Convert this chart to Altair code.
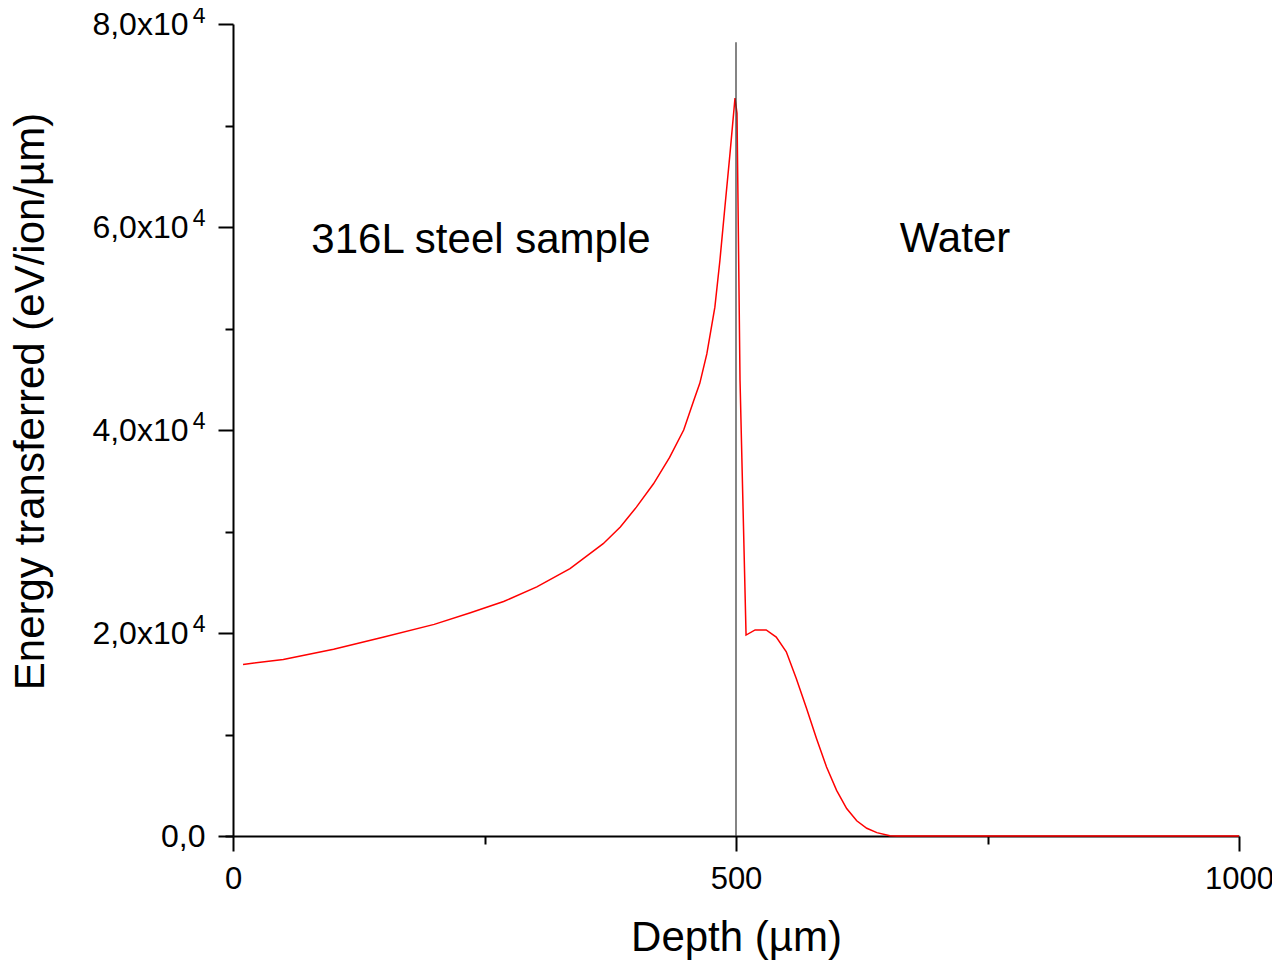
import altair as alt
import pandas as pd

# Curve data
depth = [10, 50, 100, 150, 200, 236, 269, 302, 335, 368, 385, 401, 418, 434, 448,
         458, 464, 471, 479, 484, 489, 494, 499, 501, 504, 510, 519, 530, 540, 550,
         560, 570, 580, 590, 600, 610, 620, 630, 640, 653, 660, 700, 800, 900, 1000]
energy = [16900, 17400, 18400, 19600, 20850, 22000, 23100, 24550, 26350, 28800, 30450,
          32400, 34700, 37300, 40000, 42900, 44600, 47500, 52100, 56700, 62000, 67200,
          72700, 71200, 44900, 19800, 20300, 20300, 19600, 18150, 15500, 12600, 9600,
          6800, 4500, 2700, 1500, 760, 330, 30, 0, 0, 0, 0, 0]

# Interface line
interface_x = [500]
interface_top = [78200]
interface_bottom = [0]

# Annotations
label_text = ["316L steel sample", "Water"]
label_x = [246.5, 717.7]
label_y = [57440, 57540]

x_major = [0, 500, 1000]
x_minor = [250, 750]
y_major = [0, 20000, 40000, 60000, 80000]
y_minor = [10000, 30000, 50000, 70000]

df = pd.DataFrame({"depth": depth, "energy": energy})
df_rule = pd.DataFrame({"depth": interface_x, "top": interface_top, "bottom": interface_bottom})
df_text = pd.DataFrame({"t": label_text, "depth": label_x, "energy": label_y})

FONT = "Liberation Sans"
xscale = alt.Scale(domain=[0, 1000], nice=False, zero=False)
yscale = alt.Scale(domain=[0, 80000], nice=False)

common_axis = dict(
    domainColor="black", domainWidth=2, tickColor="black", tickWidth=2,
    labelFont=FONT, labelColor="black", grid=False, labelFlush=False,
    titleFont=FONT, titleFontWeight="normal", titleColor="black",
)

line = alt.Chart(df).mark_line(color="#ff0000", strokeWidth=1.5).encode(
    x=alt.X("depth:Q", scale=xscale, axis=alt.Axis(
        values=x_major, orient="bottom", tickSize=15, labelFontSize=31,
        labelPadding=13, labelExpr="format(datum.value, 'd')",
        title="Depth (µm)", titleFontSize=42, titleX=503, titleY=114,
        titleAlign="center", titleBaseline="alphabetic", **common_axis)),
    y=alt.Y("energy:Q", scale=yscale, axis=alt.Axis(
        values=y_major, orient="left", tickSize=15, labelFontSize=32,
        labelPadding=30,
        labelExpr="datum.value == 0 ? '' : replace(format(datum.value/10000, '.1f'), '.', ',') + 'x10'",
        title="Energy transferred (eV/ion/µm)", titleFontSize=42, titleAngle=270,
        titleX=-190, titleY=377, titleAlign="center", titleBaseline="alphabetic",
        **common_axis)),
)

# rule layer: interface line; its axes give the minor ticks and the "0,0" label
rule = alt.Chart(df_rule).mark_rule(color="#333333", strokeWidth=1.2).encode(
    x=alt.X("depth:Q", scale=xscale, axis=alt.Axis(
        values=x_minor, orient="bottom", tickSize=8, labels=False, domain=False,
        title=None, tickColor="black", tickWidth=2, grid=False)),
    y=alt.Y("top:Q", scale=yscale, axis=alt.Axis(
        values=[0] + y_minor, orient="left", tickSize=8, domain=False,
        labels=True, labelExpr="datum.value == 0 ? '0,0' : ''", labelFont=FONT,
        labelFontSize=32, labelColor="black", labelPadding=20, labelFlush=False,
        title=None, tickColor="black", tickWidth=2, grid=False)),
    y2="bottom:Q",
)

# text layer also carries the exponent ("4") of the y tick labels
text = alt.Chart(df_text).mark_text(
    font=FONT, fontSize=42, color="black", align="center", baseline="alphabetic"
).encode(
    x=alt.X("depth:Q", scale=xscale, axis=None),
    y=alt.Y("energy:Q", scale=yscale, axis=alt.Axis(
        values=y_major, orient="left", ticks=False, tickSize=0, domain=False,
        labels=True, labelExpr="datum.value == 0 ? '' : '4'", labelFont=FONT,
        labelFontSize=23, labelColor="black", labelPadding=28, labelOffset=-9,
        labelFlush=False, title=None, grid=False)),
    text="t:N",
)

chart = alt.layer(line, rule, text).resolve_axis(
    x="independent", y="independent"
).properties(
    width=1006, height=812,
    background="white",
    autosize=alt.AutoSizeParams(type="none"),
    padding={"left": 225, "top": 16, "right": 33, "bottom": 124},
).configure_view(stroke=None, strokeWidth=0)

chart.save("out.html", embed_options={"renderer": "svg", "actions": False})
